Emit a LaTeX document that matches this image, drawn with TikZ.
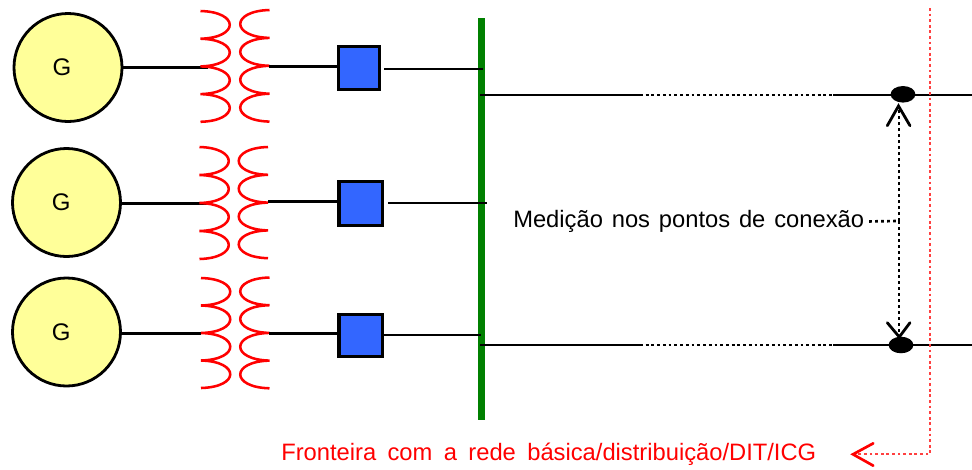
\documentclass[tikz,border=0pt]{standalone}
\usepackage{fontspec}
\setmainfont{Liberation Sans}
\usetikzlibrary{shapes.geometric}
\definecolor{genfill}{HTML}{FFFF99}
\definecolor{boxblue}{HTML}{3366FF}
\definecolor{busgreen}{HTML}{008000}
\tikzset{
  x=0.75pt,y=-0.75pt,
  gen/.style={circle,draw=black,line width=2.1pt,fill=genfill,minimum size=81pt,inner sep=0pt,font=\fontsize{18}{20}\selectfont},
  breaker/.style={rectangle,draw=black,line width=2.3pt,fill=boxblue,inner sep=0pt},
  wire/.style={black,line width=2pt},
  dotwire/.style={black,line width=2pt,dash pattern=on 2.1pt off 2.2pt},
  coilline/.style={red,line width=1.9pt},
  redfront/.style={red!75!white,line width=1.7pt,dash pattern=on 2.1pt off 2.1pt},
  measure/.style={black,line width=2pt,dash pattern=on 2.2pt off 2.3pt},
  tipline/.style={line width=2.1pt,line cap=round,line join=miter},
  junction/.style={ellipse,fill=black,minimum width=18.6pt,minimum height=12.4pt,inner sep=0pt},
  labeltext/.style={font=\fontsize{17.8}{20}\selectfont,inner sep=0pt,anchor=west},
}
\newcommand{\coilL}[3]{% x, y top, pitch
  \draw[coilline] (#1,#2)
    \foreach \k in {0,1,2,3}{ .. controls ({#1+39},{#2+\k*#3+1}) and ({#1+39},{#2+\k*#3+#3-1}) .. ({#1},{#2+(\k+1)*#3}) };
}
\newcommand{\coilR}[3]{%
  \draw[coilline] (#1,#2)
    \foreach \k in {0,1,2,3}{ .. controls ({#1-39},{#2+\k*#3+1}) and ({#1-39},{#2+\k*#3+#3-1}) .. ({#1},{#2+(\k+1)*#3}) };
}
\begin{document}
\begin{tikzpicture}
\useasboundingbox (0,0) rectangle (972,469);
% anchors
\coordinate (c1l) at (208,67.5);
\coordinate (c1r) at (269,66.5);
\coordinate (c2l) at (208,203.5);
\coordinate (c2r) at (268,201.5);
\coordinate (c3l) at (201,333.5);
\coordinate (c3r) at (269,333.5);
\coordinate (k1) at (337,66.5);
\coordinate (k2) at (338,201.5);
\coordinate (k3) at (341,333.5);
% generators
\node[gen] (g1) at (68,67.5) {\hspace*{-9pt}G};
\node[gen] (g2) at (66.5,202.5) {\hspace*{-8pt}G};
\node[gen] (g3) at (66.5,332) {\hspace*{-8pt}G};
% left wires
\draw[wire] (g1.east |- c1l) -- (c1l);
\draw[wire] (g2.east |- c2l) -- (c2l);
\draw[wire] (g3.east |- c3l) -- (c3l);
% coils
\coilL{200.5}{11}{27.7}
\coilR{269.5}{10}{27.9}
\coilL{199.5}{147}{28}
\coilR{268}{147}{27.8}
\coilL{201}{278}{27.5}
\coilR{269.5}{277.5}{27.7}
% breakers
\node[breaker,minimum width=30.75pt,minimum height=32.25pt] (b1) at (358.8,68) {};
\node[breaker,minimum width=32.6pt,minimum height=32.6pt] (b2) at (360.7,203.3) {};
\node[breaker,minimum width=32.3pt,minimum height=31.5pt] (b3) at (360.5,335.2) {};
\draw[wire] (c1r) -- (k1);
\draw[wire] (c2r) -- (k2);
\draw[wire] (c3r) -- (k3);
% bus
\coordinate (bust) at (481.3,18);
\coordinate (busb) at (481.3,420);
\draw[busgreen,line width=5.4pt] (bust) -- (busb);
\coordinate (o1) at (384,69); \coordinate (i1) at (483,69);
\coordinate (o2) at (388,203); \coordinate (i2) at (487,203);
\coordinate (o3) at (384,335); \coordinate (i3) at (481,335);
\draw[wire] (o1) -- (i1);
\draw[wire] (o2) -- (i2);
\draw[wire] (o3) -- (i3);
% junctions
\node[junction] (j1) at (903,94.3) {};
\node[junction] (j2) at (901,345) {};
% outgoing lines
\coordinate (a1) at (480,95); \coordinate (d1) at (640,95); \coordinate (e1) at (833,95); \coordinate (r1) at (972,95);
\coordinate (a2) at (480,345); \coordinate (d2) at (640,345); \coordinate (e2) at (833,345); \coordinate (r2) at (972,345);
\draw[wire] (a1) -- (d1);
\draw[dotwire] (d1) -- (e1);
\draw[wire] (e1) -- (r1);
\draw[wire] (a2) -- (d2);
\draw[dotwire] (d2) -- (e2);
\draw[wire] (e2) -- (r2);
% label and measurement arrows
\node[labeltext] (lab) at (513,221.5) {\spaceskip=6.65pt Medição nos pontos de conexão};
\coordinate (m) at (899,221);
\coordinate (up) at (899,107);
\coordinate (dn) at (899,337);
\draw[measure,shorten <=3.5pt] (lab.east) -- (m);
\draw[measure] (m) -- (up);
\draw[measure] (m) -- (dn);
\draw[tipline] (887.3,125.7) -- (898.5,106) -- (910,125.7);
\draw[tipline] (887.3,322.7) -- (899.3,337) -- (910,322.7);
% frontier
\coordinate (ft) at (930,8);
\coordinate (fc) at (930,454.3);
\coordinate (fa) at (854,454.3);
\node[labeltext,text=red] (fl) at (281,454.5) {\spaceskip=8.55pt Fronteira com a rede básica/distribuição/DIT/ICG};
\draw[redfront] (ft) -- (fc) -- (fa);
\draw[red,line width=2pt,line cap=round] (873.3,443.3) -- (853,454.3) -- (873.3,465.7);
\end{tikzpicture}
\end{document}
